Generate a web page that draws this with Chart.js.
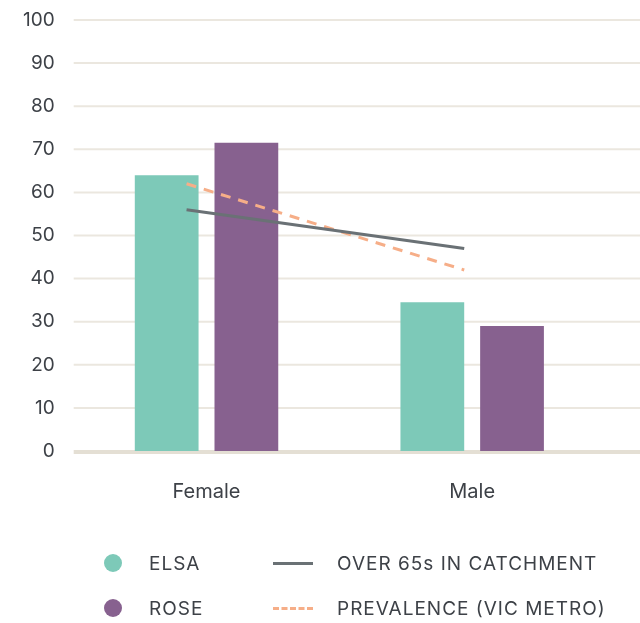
<!DOCTYPE html>
<html>
<head>
<meta charset="utf-8">
<script src="https://cdn.jsdelivr.net/npm/chart.js@4/dist/chart.umd.min.js"></script>
<style>
  html, body { margin: 0; padding: 0; background: #ffffff; }
  #wrap { position: relative; width: 640px; height: 623px; overflow: hidden; font-family: Inter, "Open Sans", sans-serif; }
  .chartBox { position: absolute; left: 0; top: 0; width: 640px; height: 541px; }
  #legend { position: absolute; left: 0; top: 541px; width: 640px; height: 82px; }
  .item { position: absolute; display: flex; align-items: center; color: #3d4147; font-size: 19px; letter-spacing: 1px; height: 24px; }
  .dot { width: 18px; height: 18px; border-radius: 50%; margin-right: 27px; }
  .ln { width: 40px; height: 0; margin-right: 24px; }
</style>
</head>
<body>
<div id="wrap">
  <div class="chartBox"><canvas id="bars"></canvas></div>
  <div class="chartBox"><canvas id="lines"></canvas></div>
  <div id="legend"></div>
</div>
<script>
// Categories and series
const categories = ['Female', 'Male'];
const elsa = [64, 34.5];
const rose = [71.5, 29];
const over65Catchment = [56, 47];
const prevalenceVicMetro = [62, 42];
const yTicks = [0, 10, 20, 30, 40, 50, 60, 70, 80, 90, 100];

const COLORS = {
  elsa: '#7dc9b8',
  rose: '#87618f',
  over65: '#6a7175',
  prevalence: '#f6ae88',
  grid: '#ebe7df',
  base: '#e4dfd4',
  text: '#3d4147'
};
const FONT = 'Inter';

// Shared axes so the bar layer and the trend-line layer have the same plot area
function axes(textColor) {
  return {
    x: {
      offset: true,
      grid: { display: false, drawTicks: false, offset: true },
      border: { display: false },
      ticks: { color: textColor, font: { family: FONT, size: 20 }, padding: 29 }
    },
    y: {
      min: 0, max: 100,
      afterBuildTicks: s => { s.ticks = yTicks.map(v => ({ value: v })); },
      grid: { display: false, drawTicks: false },
      border: { display: false },
      ticks: { color: textColor, font: { family: FONT, size: 19, lineHeight: '2px' }, padding: 19 }
    }
  };
}
const common = {
  responsive: true,
  maintainAspectRatio: false,
  animation: false,
  layout: { padding: { left: 4, right: 35, top: 0, bottom: 8 } },
  plugins: { legend: { display: false }, tooltip: { enabled: false } }
};

// Horizontal grid lines run from the plot's left edge to the right edge of the canvas
const gridPlugin = {
  id: 'wideGrid',
  beforeDatasetsDraw(chart) {
    const { ctx, chartArea, scales } = chart;
    const y = scales.y;
    ctx.save();
    yTicks.forEach(v => {
      const py = y.getPixelForValue(v) + (v === 0 ? 1 : 0);
      ctx.beginPath();
      ctx.strokeStyle = v === 0 ? COLORS.base : COLORS.grid;
      ctx.lineWidth = v === 0 ? 4 : 2;
      ctx.moveTo(chartArea.left, py);
      ctx.lineTo(chart.width, py);
      ctx.stroke();
    });
    ctx.restore();
  }
};

// Bar layer
new Chart(document.getElementById('bars'), {
  type: 'bar',
  data: {
    labels: categories,
    datasets: [
      { label: 'ELSA', data: elsa, backgroundColor: COLORS.elsa, barPercentage: 0.8, categoryPercentage: 0.6 },
      { label: 'ROSE', data: rose, backgroundColor: COLORS.rose, barPercentage: 0.8, categoryPercentage: 0.6 }
    ]
  },
  options: Object.assign({}, common, { scales: axes(COLORS.text) }),
  plugins: [gridPlugin]
});

// Trend-line layer, drawn on top; lines use their own horizontal scale
const toPoints = arr => arr.map((v, i) => ({ x: i, y: v }));
const lineScales = axes('rgba(0,0,0,0)');
lineScales.x2 = { type: 'linear', display: false, min: -0.4065, max: 1.507 };
new Chart(document.getElementById('lines'), {
  type: 'line',
  data: {
    labels: categories,
    datasets: [
      {
        label: 'OVER 65s IN CATCHMENT', data: toPoints(over65Catchment), xAxisID: 'x2',
        borderColor: COLORS.over65, borderWidth: 3, pointRadius: 0, tension: 0, fill: false
      },
      {
        label: 'PREVALENCE (VIC METRO)', data: toPoints(prevalenceVicMetro), xAxisID: 'x2',
        borderColor: COLORS.prevalence, borderWidth: 3, borderDash: [10, 8],
        pointRadius: 0, tension: 0, fill: false
      }
    ]
  },
  options: Object.assign({}, common, { scales: lineScales })
});

// Legend: two columns (bars on the left, lines on the right)
const legendItems = [
  { label: 'ELSA', kind: 'dot', color: COLORS.elsa, left: 104, top: 22 },
  { label: 'ROSE', kind: 'dot', color: COLORS.rose, left: 104, top: 67 },
  { label: 'OVER 65s IN CATCHMENT', kind: 'line', color: COLORS.over65, left: 273, top: 22 },
  { label: 'PREVALENCE (VIC METRO)', kind: 'dash', color: COLORS.prevalence, left: 273, top: 67 }
];
const legendEl = document.getElementById('legend');
legendItems.forEach(it => {
  const d = document.createElement('div');
  d.className = 'item';
  d.style.left = it.left + 'px';
  d.style.top = (it.top - 12) + 'px';
  const sym = document.createElement('span');
  if (it.kind === 'dot') {
    sym.className = 'dot';
    sym.style.background = it.color;
  } else {
    sym.className = 'ln';
    sym.style.borderTop = '3px ' + (it.kind === 'dash' ? 'dashed ' : 'solid ') + it.color;
  }
  const t = document.createElement('span');
  t.textContent = it.label;
  d.appendChild(sym);
  d.appendChild(t);
  legendEl.appendChild(d);
});
</script>
</body>
</html>
